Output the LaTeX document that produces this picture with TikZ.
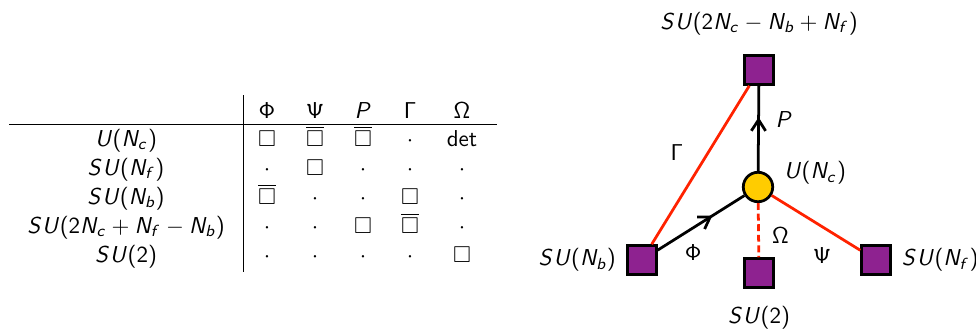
\documentclass[tikz,border=0pt]{standalone}
\usepackage{amsmath}
\usepackage{amssymb}
\renewcommand{\sfdefault}{cmss}
\usepackage{sansmath}
\usepackage{tikz}
\usetikzlibrary{positioning,arrows.meta,decorations.markings}
\definecolor{flavour}{HTML}{8E2290}
\definecolor{gauge}{HTML}{FFCC00}
\definecolor{link}{HTML}{FF2200}
\newcommand{\fund}{\square}
\newcommand{\afund}{\overline{\square}}

\begin{document}
\begin{tikzpicture}[x=0.435pt,y=-0.435pt,very thick,
		every node/.style={font=\sansmath},
		flav/.style={rectangle,draw,fill=flavour,minimum size=12.5pt,inner sep=0pt},
		gaugenode/.style={circle,draw,fill=gauge,minimum size=12.8pt,inner sep=0pt},
		cell/.style={anchor=base},
		redline/.style={draw=link},
		midarrow/.style={postaction={decorate},decoration={markings,mark=at position 0.63 with {\arrow{Straight Barb[length=4.8pt,width=6.2pt]}}}}]
		\useasboundingbox (0,0) rectangle (976,329);
		% charge table
		\foreach \x/\h [count=\i] in {267/\mathsf{\Phi},315/\mathsf{\Psi},363/P,410/\mathsf{\Gamma},462/\mathsf{\Omega}}
			\node (head\i) [cell] at (\x,118) {$\h$};
		\foreach \y/\g/\a/\b/\c/\d/\e [count=\r] in {146/U(N_c)/\fund/\afund/\afund/\cdot/\det,175/SU(N_f)/\cdot/\fund/\cdot/\cdot/\cdot,204/SU(N_b)/\afund/\cdot/\cdot/\fund/\cdot,233/SU(2N_c+N_f-N_b)/\cdot/\cdot/\fund/\afund/\cdot,262/SU(2)/\cdot/\cdot/\cdot/\cdot/\fund}
		{
			\node (group\r) [cell] at (126,\y) {$\g$};
			\foreach \x/\v [count=\i] in {267/\a,315/\b,363/\c,410/\d,462/\e}
				\node (cell\r\i) [cell] at (\x,\y) {$\v$};
		}
		\draw[thin] (9,124) -- (497,124);
		\draw[thin] (243,95) -- (243,272);
		% quiver
		\node (top) [flav] at (759,70) {};
		\node (gc) [gaugenode] at (758,187) {};
		\node (nb) [flav] at (642,260) {};
		\node (two) [flav] at (759,273) {};
		\node (nf) [flav] at (876,260) {};
		\node (ltop) [above=4.5pt of top] {$SU(2N_c-N_b+N_f)$};
		\node (ltwo) [below=3.5pt of two] {$SU(2)$};
		\node (lnb) [left=0.6pt of nb] {$SU(N_b)$};
		\node (lnf) [right=0.5pt of nf] {$SU(N_f)$};
		\node (lgc) at (815,173) {$U(N_c)$};
		\draw[midarrow] (gc) -- node[right=3.5pt,pos=0.6] {$P$} (top);
		\draw[redline] (nb) -- node[left=7pt,pos=0.58] {$\mathsf{\Gamma}$} (top);
		\draw[midarrow] (nb) -- node[below=3.5pt,pos=0.41] {$\mathsf{\Phi}$} (gc);
		\draw[redline,dash pattern=on 3pt off 1.6pt] (gc) -- node[right=2pt,pos=0.59] {$\mathsf{\Omega}$} (two);
		\draw[redline] (gc) -- node[below=5pt,pos=0.57] {$\mathsf{\Psi}$} (nf);
		\end{tikzpicture}
\end{document}
